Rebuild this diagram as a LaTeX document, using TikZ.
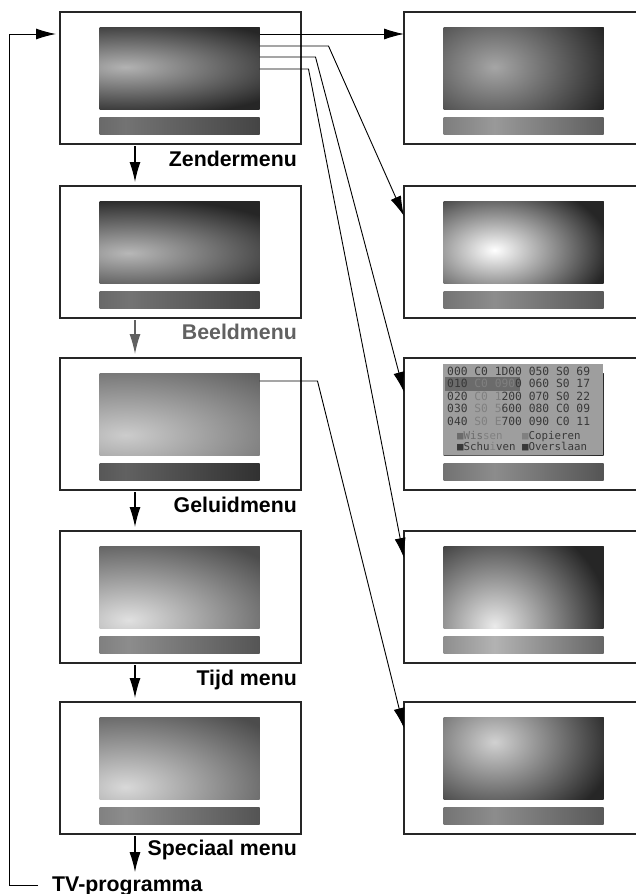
\documentclass[tikz,border=0pt]{standalone}
\usepackage{fontspec}
\setmainfont{Liberation Sans}
\newfontfamily\osdfont{DejaVu Sans Mono}
\usetikzlibrary{calc,positioning,arrows.meta}
\colorlet{spotin}{white}
\colorlet{spotout}{black}
\pgfdeclareradialshading[spotin,spotout]{spot}{\pgfpoint{0bp}{0bp}}{color(0bp)=(spotin); color(18bp)=(spotout); color(50bp)=(spotout)}
\newcommand\osdfade[1]{\textcolor{black!50}{#1}}
% screen and bar inside a panel: panel, spot x, spot y, light, dark, radii, bar light, bar dark
\newcommand\tvscreen[8]{%
  \coordinate (#1-scr) at ($(#1.north west)+(39.5,15)$);
  \colorlet{spotin}{#4}\colorlet{spotout}{#5}%
  \begin{scope}
    \clip (#1-scr) rectangle ++(160,82);
    \fill[#5] (#1-scr) rectangle ++(160,82);
    \shade[shading=spot] ($(#1-scr)+(#2,#3)$) ellipse (#6);
  \end{scope}
  \begin{scope}
    \clip ($(#1-scr)+(0,90)$) rectangle ++(160,17);
    \shade[left color=#8, right color=#8, middle color=#7] ($(#1-scr)+(#2,90)$) ++(-200,0) rectangle ++(400,17);
  \end{scope}
}

\begin{document}
\begin{tikzpicture}[x=1pt, y=-1pt,
    panel/.style={draw=black!85, line width=1.3pt, minimum width=241pt, minimum height=132pt, inner sep=0pt, outer sep=0pt},
    menulabel/.style={font=\fontsize{21.3}{25}\selectfont\bfseries, inner sep=0pt, anchor=base east},
    flow/.style={-{Latex[length=20pt,width=11pt]}, line width=1.2pt},
    link/.style={-{Latex[length=20pt,width=11pt]}, line width=0.9pt},
    osd/.style={font=\osdfont\fontsize{11.3}{12.5}\selectfont, inner sep=0pt, anchor=north west, align=left, text=black!78}
  ]
  \useasboundingbox (0,0) rectangle (636,894);

  % main menus
  \node[panel] (zender) at (180.5,78) {};
  \node[panel, below=42pt of zender] (beeld) {};
  \node[panel, below=40pt of beeld] (geluid) {};
  \node[panel, below=41pt of geluid] (tijd) {};
  \node[panel, below=39pt of tijd] (speciaal) {};

  % submenus
  \node[panel, right=103pt of zender] (sub1) {};
  \node[panel, right=103pt of beeld] (sub2) {};
  \node[panel, right=103pt of geluid] (sub3) {};
  \node[panel, right=103pt of tijd] (sub4) {};
  \node[panel, right=103pt of speciaal] (sub5) {};

  \tvscreen{zender}{26}{40}{black!30}{black!85}{250 and 70}{black!55}{black!82}
  \tvscreen{beeld}{29}{52}{black!28}{black!85}{250 and 76}{black!55}{black!82}
  \tvscreen{geluid}{26}{62}{black!20}{black!62}{278 and 111}{black!62}{black!90}
  \tvscreen{tijd}{29}{74}{black!12}{black!70}{250 and 125}{black!45}{black!78}
  \tvscreen{speciaal}{26}{70}{black!15}{black!70}{250 and 125}{black!45}{black!78}
  \tvscreen{sub1}{51}{40}{black!35}{black!85}{167 and 118}{black!40}{black!82}
  \tvscreen{sub2}{51}{49}{white}{black!85}{160 and 97}{black!45}{black!82}
  \tvscreen{sub3}{51}{40}{black!40}{black!85}{167 and 118}{black!45}{black!85}
  \tvscreen{sub4}{51}{80}{black!8}{black!85}{160 and 153}{black!30}{black!85}
  \tvscreen{sub5}{51}{25}{black!18}{black!85}{167 and 125}{black!45}{black!82}

  % programme list on screen
  \fill[black!38] ($(sub3.north west)+(39,6)$) rectangle ++(160,91);
  \fill[black!58] ($(sub3.north west)+(41,19)$) rectangle ++(75,14);
  \node[osd] (osdlist) at ($(sub3.north west)+(43,8.5)$) {000 C0 1D00 050 S0 69\\
    010 \osdfade{C0 090}0 060 S0 17\\
    020 \osdfade{C0 1}200 070 S0 22\\
    030 \osdfade{S0 5}600 080 C0 09\\
    040 \osdfade{S0 E}700 090 C0 11};
  \node[osd, font=\osdfont\fontsize{10.8}{11}\selectfont] (osdkeys) at ($(sub3.north west)+(53,73)$)
    {\textcolor{black!58}{■Wis}\osdfade{sen}~~~\textcolor{black!50}{■}Copieren\\
     ■Schu\osdfade{i}ven ■Overslaan};

  % labels
  \node[menulabel] (zlabel) at ([xshift=-4pt,yshift=-22pt]zender.south east) {Zendermenu};
  \node[menulabel, text=black!62] (blabel) at ([xshift=-4pt,yshift=-21pt]beeld.south east) {Beeldmenu};
  \node[menulabel] (glabel) at ([xshift=-4pt,yshift=-22pt]geluid.south east) {Geluidmenu};
  \node[menulabel] (tlabel) at ([xshift=-4pt,yshift=-22pt]tijd.south east) {Tijd menu};
  \node[menulabel] (slabel) at ([xshift=-4pt,yshift=-21pt]speciaal.south east) {Speciaal menu};
  \node[menulabel, anchor=base west] (tvprog) at (52,891) {TV-programma};

  % menu sequence
  \draw[flow] ([xshift=-45.5pt,yshift=-2pt]zender.south) -- ([xshift=-45.5pt,yshift=4pt]beeld.north);
  \draw[flow, black!62] ([xshift=-45.5pt,yshift=-2pt]beeld.south) -- ([xshift=-45.5pt,yshift=4pt]geluid.north);
  \draw[flow] ([xshift=-45.5pt,yshift=-2pt]geluid.south) -- ([xshift=-45.5pt,yshift=4pt]tijd.north);
  \draw[flow] ([xshift=-45.5pt,yshift=-2pt]tijd.south) -- ([xshift=-45.5pt,yshift=4pt]speciaal.north);
  \draw[flow, shorten >=4pt] ([xshift=-45.5pt,yshift=-2pt]speciaal.south) -- ([xshift=-45.5pt]speciaal.south |- tvprog.north);
  \draw[flow, line width=1pt] ([xshift=-14pt]tvprog.west) -- ++(-29,0) |- ([xshift=-4pt,yshift=-22pt]zender.north west);

  % submenu links
  \coordinate (zout1) at ($(zender-scr)+(160,7)$);
  \coordinate (zout2) at ($(zender-scr)+(160,19)$);
  \coordinate (zout3) at ($(zender-scr)+(160,30)$);
  \coordinate (zout4) at ($(zender-scr)+(160,42)$);
  \coordinate (gout) at ($(geluid-scr)+(160,8)$);
  \coordinate (sub1in) at ($(sub1.north west)+(0,22)$);
  \coordinate (sub2in) at ($(sub2.north west)+(0,30)$);
  \coordinate (sub3in) at ($(sub3.north west)+(0,34)$);
  \coordinate (sub4in) at ($(sub4.north west)+(0,27)$);
  \coordinate (sub5in) at ($(sub5.north west)+(0,26)$);
  \draw[link] (zout1) -- (sub1in);
  \draw[link] (zout2) -- ++(69,0) -- (sub2in);
  \draw[link] (zout3) -- ++(56,0) -- (sub3in);
  \draw[link] (zout4) -- ++(49,0) -- (sub4in);
  \draw[link] (gout) -- ++(58,0) -- (sub5in);

\end{tikzpicture}
\end{document}
